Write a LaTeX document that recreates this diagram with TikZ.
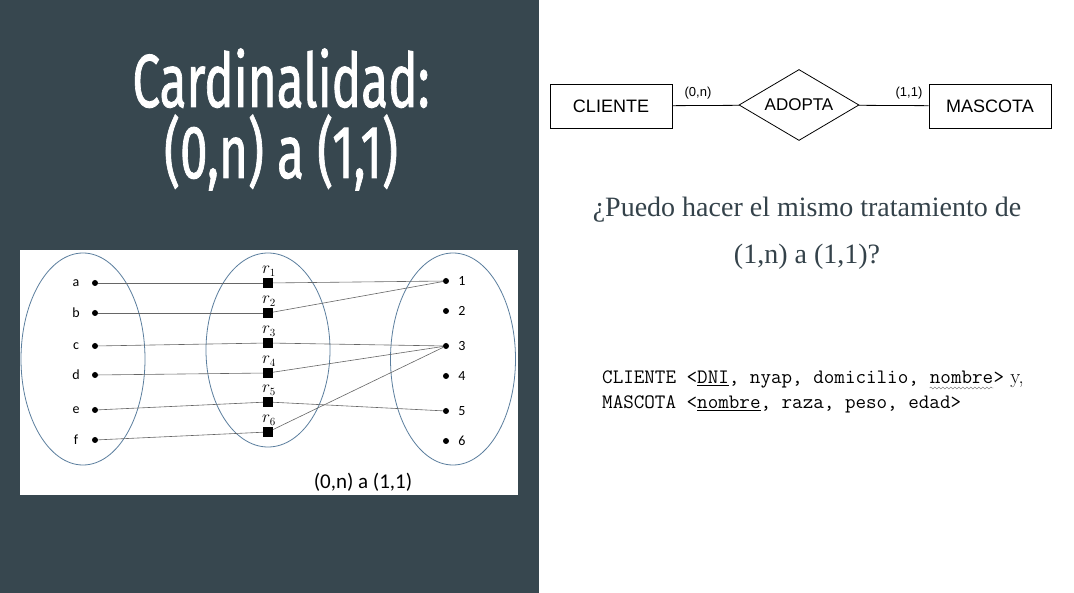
\documentclass[tikz,border=0pt]{standalone}
\usepackage{fontspec}
\newfontfamily\titlefont{Fira Sans}[FakeBold=1.3]
\newfontfamily\calib{Carlito}
\newfontfamily\arialf{Liberation Sans}
\newfontfamily\qfont{Liberation Serif}
\usetikzlibrary{shapes.geometric,decorations.pathmorphing}
\definecolor{slate}{HTML}{37474F}
\definecolor{ellc}{HTML}{5B7E9E}
\definecolor{qtext}{HTML}{34424A}
\tikzset{
  ell/.style={ellipse, draw=ellc, line width=0.8pt, inner sep=0},
  dot/.style={circle, fill=black, inner sep=0, minimum size=6},
  sq/.style={rectangle, fill=black, inner sep=0, minimum size=10},
  lbl/.style={font=\calib\fontsize{14}{16}\selectfont, inner sep=0},
  rl/.style={font=\fontsize{16}{18}\selectfont, inner sep=0},
  conn/.style={draw=black!60, line width=0.6pt},
  ent/.style={draw, line width=0.8pt, minimum width=122, minimum height=44, inner sep=0, font=\arialf\fontsize{18}{20}\selectfont},
  rel/.style={diamond, aspect=1.7, draw, line width=0.8pt, minimum width=120, minimum height=71, inner sep=0, font=\arialf\fontsize{17}{20}\selectfont},
  card/.style={font=\arialf\fontsize{13}{15}\selectfont, inner sep=0},
  tt/.style={font=\ttfamily\fontsize{20.5}{22}\selectfont, inner sep=0},
  ttl/.style={text=white, font=\titlefont\fontsize{75}{80}\selectfont, anchor=base, inner sep=0},
  qst/.style={text=qtext, font=\qfont\fontsize{28}{30}\selectfont, inner sep=0},
}
\begin{document}
\begin{tikzpicture}[x=1pt,y=-1pt]
\useasboundingbox (0,0) rectangle (1074,593);
\fill[slate] (0,0) rectangle (539,593);
\fill[white] (539,0) rectangle (1074,593);
% title
\node[ttl] (t1) at (281,107) {\scalebox{0.66}[1]{Cardinalidad:}};
\node[ttl] (t2) at (281,178) {\scalebox{0.66}[1]{(0,n) a (1,1)}};
% image box
\fill[white] (20,250) rectangle (518,495);
\node[ell, minimum width=124, minimum height=212] (E1) at (83,359) {};
\node[ell, minimum width=124, minimum height=194] (E2) at (268,350) {};
\node[ell, minimum width=125, minimum height=212] (E3) at (453,359) {};
% left set
\foreach \n/\y in {a/283,b/313,c/346,d/375,e/410,f/440}{
  \node[dot] (\n) at (95,\y) {};
  \node[lbl] (l\n) at (76,\y) {\n};
}
% relation set
\foreach \i/\y in {1/283,2/313,3/343,4/373,5/402,6/432}{
  \node[sq] (r\i) at (268,\y) {};
  \node[rl, anchor=base] (lr\i) at (269,\y-9) {$r_{\i}$};
}
% right set
\foreach \i/\y in {1/281,2/311,3/346,4/376,5/411,6/441}{
  \node[dot] (s\i) at (446,\y) {};
  \node[lbl] (ls\i) at (462,\y) {\i};
}
\draw[conn] (a) -- (r1);
\draw[conn] (b) -- (r2);
\draw[conn] (c) -- (r3);
\draw[conn] (d) -- (r4);
\draw[conn] (e) -- (r5);
\draw[conn] (f) -- (r6);
\draw[conn] (r1) -- (s1);
\draw[conn] (r2) -- (s1);
\draw[conn] (r3) -- (s3);
\draw[conn] (r4) -- (s3);
\draw[conn] (r5) -- (s5);
\draw[conn] (r6) -- (s3);
\node[font=\calib\fontsize{21}{24}\selectfont, inner sep=0] (cap) at (363,482) {(0,n) a (1,1)};
% ER diagram
\node[ent] (cli) at (611,106) {CLIENTE};
\node[rel] (ado) at (799,105) {ADOPTA};
\node[ent] (mas) at (990,106) {MASCOTA};
\draw[line width=0.8pt] (cli) -- (ado);
\draw[line width=0.8pt] (ado) -- (mas);
\node[card] (c1) at (698,93) {(0,n)};
\node[card] (c2) at (909,93) {(1,1)};
% question
\node[qst] (q1) at (807,210) {¿Puedo hacer el mismo tratamiento de};
\node[qst] (q2) at (807,257) {(1,n) a (1,1)?};
% relational schema
\node[tt, anchor=base west] (m1a) at (602,384) {CLIENTE <\underline{DNI}, nyap, domicilio,\mbox{\ }};
\node[tt, anchor=base west] (m1b) at (m1a.base east) {nombre};
\node[tt, anchor=base west] (m1c) at (m1b.base east) {>\rmfamily\ y,};
\draw[decorate, decoration={snake, amplitude=1pt, segment length=4pt}, line width=0.4pt, black!60] ([yshift=-4pt]m1b.base west) -- ([yshift=-4pt]m1b.base east);
\node[tt, anchor=base west] (m2) at (602,409) {MASCOTA <\underline{nombre}, raza, peso, edad>};
\end{tikzpicture}
\end{document}
